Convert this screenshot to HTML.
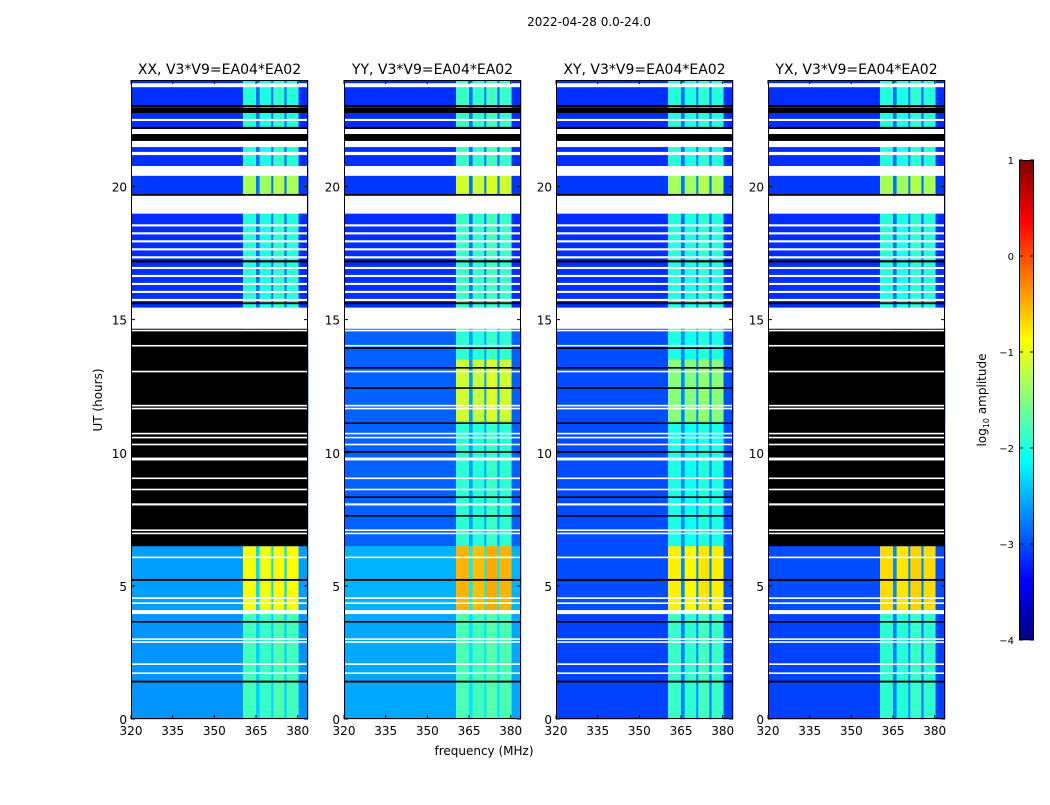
<!DOCTYPE html>
<html><head><meta charset="utf-8"><style>
html,body{margin:0;padding:0;background:#fff;}
svg text{font-family:"DejaVu Sans","Liberation Sans",sans-serif;fill:#000;}
</style></head><body>
<svg id="fig" width="1050" height="800" viewBox="0 0 1050 800" xmlns="http://www.w3.org/2000/svg">
<text x="589" y="26" font-size="12" text-anchor="middle">2022-04-28 0.0-24.0</text>
<text x="102" y="400" font-size="12" text-anchor="middle" transform="rotate(-90 102 400)">UT (hours)</text>
<text x="484" y="755" font-size="12" text-anchor="middle">frequency (MHz)</text>
<g id="panels"></g>
<g id="cbar"></g>
</svg>
<script>
const panelTitles = ["XX, V3*V9=EA04*EA02","YY, V3*V9=EA04*EA02","XY, V3*V9=EA04*EA02","YX, V3*V9=EA04*EA02"];
const xTicks = [320,335,350,365,380];
const yTicks = [0,5,10,15,20];
const cbTicks = [1,0,-1,-2,-3,-4];
const freqStart = [320,360.3,365,366.3,370.5,371.2,375.2,376,380.3];
const freqEnd   = [360.3,365,366.3,370.5,371.2,375.2,376,380.3,383.7];
const freqKind  = [-1,0,-2,1,-2,2,-2,3,-1];
const bandOffset = [0,-0.05,0.05,0];
const regStart = [15.45,19.72,6.49,11.2,0,4.1];
const regEnd   = [24,20.4,14.66,13.5,6.49,6.49];
const regBg    = [[-3.15,-3.15,-3.15,-3.15],[-3.1,-3.1,-3.1,-3.1],[-2.95,-2.9,-3.0,-2.95],[-2.95,-2.9,-3.0,-2.95],[-2.65,-2.55,-3.05,-3.05],[-2.6,-2.5,-3.0,-3.0]];
const regBand  = [[-1.95,-1.85,-1.95,-1.95],[-1.3,-1.1,-1.3,-1.3],[-2.0,-1.9,-2.0,-2.0],[-1.6,-1.1,-1.45,-1.6],[-1.8,-1.75,-1.85,-1.9],[-0.9,-0.5,-0.8,-0.7]];
const flagStart = [23.73,22.98,22.76,22.46,22.16,21.97,21.71,21.48,21.18,20.4,19.65,18.98,18.5,18.2,17.9,17.6,17.15,17.3,16.9,16.6,16.3,16.0,15.7,15.58,14.66,6.49,
  14.56,13.99,13.02,11.74,11.63,10.69,10.54,10.28,9.71,9.01,8.59,8.02,7.06,6.94,
  13.9,13.16,12.4,11.08,10.0,8.3,7.6,
  6.04,5.19,4.51,4.32,3.94,3.62,2.97,2.86,2.03,1.69,1.37];
const flagEnd   = [23.88,23.06,22.95,22.54,22.24,22.16,21.97,21.71,21.3,20.77,19.72,19.65,18.58,18.28,17.98,17.68,17.23,17.38,16.98,16.68,16.38,16.08,15.78,15.65,15.45,14.66,
  14.62,14.05,13.08,11.8,11.69,10.75,10.6,10.34,9.82,9.07,8.65,8.1,7.12,7.0,
  13.96,13.22,12.46,11.14,10.06,8.36,7.66,
  6.1,5.26,4.57,4.38,4.09,3.68,3.03,2.92,2.09,1.75,1.44];
const flagColor = ["w","k","k","w","k","w","k","w","w","w","k","w","w","w","w","w","k","w","w","w","w","w","w","k","w","k",
  "w","w","w","w","w","w","w","w","w","w","w","w","w","w",
  "k","k","k","k","k","k","k",
  "w","k","w","w","w","k","w","w","w","w","k"];
const flagPanels = ["all","all","all","all","all","all","all","all","all","all","all","all","all","all","all","all","all","all","all","all","all","all","all","all","all","14",
  "all","all","all","all","all","all","all","all","all","all","all","all","all","all",
  "23","23","23","23","23","23","23",
  "all","all","all","all","all","all","all","all","all","all","all"];

const panelX0 = [131,344,556,768], PW = 177, Y0 = 80, PH = 639;
const FMIN = 320, FMAX = 383.7, HMIN = 0, HMAX = 24;
function xs(p,f){return panelX0[p] + (f-FMIN)/(FMAX-FMIN)*PW;}
function ys(h){return Y0 + PH - (h-HMIN)/(HMAX-HMIN)*PH;}
function jet(v){
  let t = Math.max(0,Math.min(1,(v+4)/5));
  const r = Math.max(0,Math.min(1,1.5-Math.abs(4*t-3)));
  const g = Math.max(0,Math.min(1,1.5-Math.abs(4*t-2)));
  const b = Math.max(0,Math.min(1,1.5-Math.abs(4*t-1)));
  return `rgb(${Math.round(r*255)},${Math.round(g*255)},${Math.round(b*255)})`;
}
const NS = "http://www.w3.org/2000/svg";
function mk(tag, attrs, parent){const e=document.createElementNS(NS,tag);for(const k in attrs)e.setAttribute(k,attrs[k]);parent.appendChild(e);return e;}
const panelsG = document.getElementById('panels');
for(let p=0;p<4;p++){
  const g = mk('g',{},panelsG);
  
  
  const bgR = mk('rect',{x:panelX0[p],y:Y0,width:PW,height:PH,fill:'#fff'},g);
  
  
  for(let r=0;r<regStart.length;r++){
    const y1 = ys(regEnd[r]), y2 = ys(regStart[r]);
    for(let f=0;f<freqStart.length;f++){
      const k = freqKind[f];
      let v = k===-1 ? regBg[r][p] : (k===-2 ? regBg[r][p]+0.3 : regBand[r][p]+bandOffset[k]);
      const c = mk('rect',{x:xs(p,freqStart[f]).toFixed(2),y:y1.toFixed(2),width:(xs(p,freqEnd[f])-xs(p,freqStart[f])+0.3).toFixed(2),height:(y2-y1+0.3).toFixed(2),fill:jet(v)},g);
      
      
    }
  }
  const order = [];
  for(let i=0;i<flagStart.length;i++) order.push(i);
  order.sort((a,b)=> (flagColor[a]==='k' && flagPanels[a]==='14') ? -1 : (flagColor[b]==='k' && flagPanels[b]==='14') ? 1 : 0);
  for(const i of order){
    const pp = flagPanels[i];
    if(pp==='14' && !(p===0||p===3)) continue;
    if(pp==='23' && !(p===1||p===2)) continue;
    const y1 = ys(flagEnd[i]), y2 = ys(flagStart[i]);
    const fr = mk('rect',{x:panelX0[p],y:y1.toFixed(2),width:PW,height:Math.max(1,y2-y1).toFixed(2),fill:flagColor[i]==='w'?'#fff':'#000'},g);
    
    
  }
  const fr = mk('rect',{x:panelX0[p]+0.5,y:Y0+0.5,width:PW-1,height:PH-1,fill:'none',stroke:'#000','stroke-width':1},g);
  
  
  const t = mk('text',{x:panelX0[p]+PW/2,y:Y0-6,'font-size':14,'text-anchor':'middle'},g);
  t.textContent = panelTitles[p];
  
  
  for(const xv of xTicks){
    const x = xs(p,xv);
    mk('line',{x1:x,x2:x,y1:Y0+PH,y2:Y0+PH-4,stroke:'#000'},g);
    mk('line',{x1:x,x2:x,y1:Y0,y2:Y0+4,stroke:'#000'},g);
    const tl = mk('text',{x:x,y:Y0+PH+16,'font-size':12,'text-anchor':'middle'},g);
    tl.textContent = xv;
    
    
  }
  for(const yv of yTicks){
    const y = ys(yv);
    mk('line',{x1:panelX0[p],x2:panelX0[p]+4,y1:y,y2:y,stroke:'#000'},g);
    mk('line',{x1:panelX0[p]+PW,x2:panelX0[p]+PW-4,y1:y,y2:y,stroke:'#000'},g);
    const tl = mk('text',{x:panelX0[p]-4,y:y+5,'font-size':12,'text-anchor':'end'},g);
    tl.textContent = yv;
    
    
  }
}
const cb = document.getElementById('cbar');
const CBX=1019, CBW=15, CBY=160, CBH=480;
function cby(v){return CBY + (1-v)/5*CBH;}
for(let i=0;i<240;i++){
  const v = 1 - i*5/240;
  mk('rect',{x:CBX,y:(CBY+i*2).toFixed(2),width:CBW,height:2.3,fill:jet(v)},cb);
}
mk('rect',{x:CBX+0.5,y:CBY+0.5,width:CBW-1,height:CBH-1,fill:'none',stroke:'#000'},cb);
for(const v of cbTicks){
  const y = cby(v);
  mk('line',{x1:CBX,x2:CBX+4,y1:y,y2:y,stroke:'#000'},cb);
  mk('line',{x1:CBX+CBW,x2:CBX+CBW-4,y1:y,y2:y,stroke:'#000'},cb);
  const tl = mk('text',{x:CBX-5,y:y+4,'font-size':10,'text-anchor':'end'},cb);
  tl.textContent = v<0 ? '\u2212'+(-v) : v;
  
  
}
const cl = mk('text',{x:986,y:400,'font-size':12,'text-anchor':'middle',transform:'rotate(-90 986 400)'},cb);
cl.innerHTML = 'log<tspan font-size="8" dy="3">10</tspan><tspan dy="-3"> amplitude</tspan>';


</script>
</body></html>
